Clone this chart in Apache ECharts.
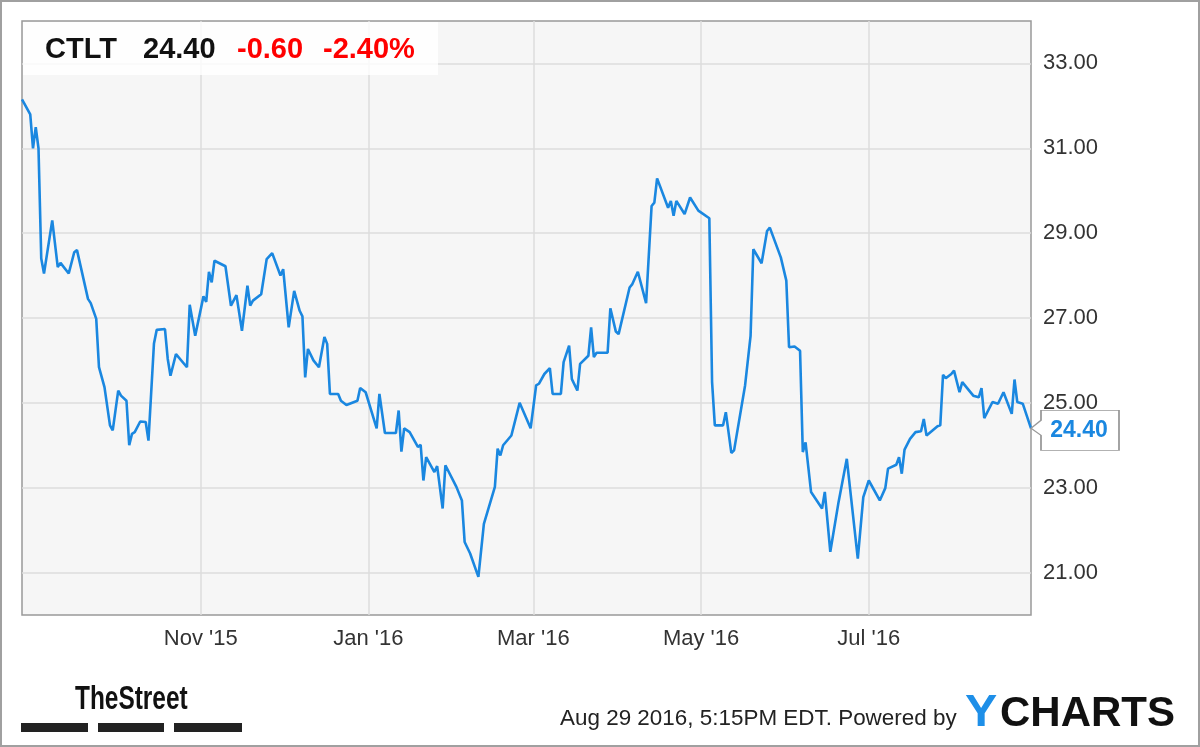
<!DOCTYPE html>
<html>
<head>
<meta charset="utf-8">
<script src="https://cdn.jsdelivr.net/npm/echarts@6/dist/echarts.min.js"></script>
<style>
html,body{margin:0;padding:0;background:#fff;}
#chart{width:1200px;height:747px;}
</style>
</head>
<body>
<div id="chart"></div>
<script>
// ---- data ----
const ticker = 'CTLT';
const lastPrice = '24.40';
const change = '-0.60';
const changePct = '-2.40%';
const xTickDates = ['2015-11-01', '2016-01-01', '2016-03-01', '2016-05-01', '2016-07-01'];
const xTickLabels = ["Nov '15", "Jan '16", "Mar '16", "May '16", "Jul '16"];
const yTickValues = [21, 23, 25, 27, 29, 31, 33];
const dates = [
'2015-08-28','2015-08-31','2015-09-01','2015-09-02','2015-09-03','2015-09-04','2015-09-05','2015-09-08','2015-09-10','2015-09-11',
'2015-09-14','2015-09-16','2015-09-17','2015-09-21','2015-09-22','2015-09-24','2015-09-25','2015-09-27','2015-09-29','2015-09-30',
'2015-10-02','2015-10-03','2015-10-05','2015-10-06','2015-10-07','2015-10-08','2015-10-10','2015-10-12','2015-10-13','2015-10-15',
'2015-10-16','2015-10-19','2015-10-20','2015-10-21','2015-10-23','2015-10-27','2015-10-28','2015-10-30','2015-11-02','2015-11-03',
'2015-11-04','2015-11-05','2015-11-06','2015-11-10','2015-11-12','2015-11-14','2015-11-16','2015-11-18','2015-11-19','2015-11-20',
'2015-11-23','2015-11-25','2015-11-27','2015-11-30','2015-12-01','2015-12-03','2015-12-05','2015-12-07','2015-12-08','2015-12-09',
'2015-12-10','2015-12-12','2015-12-14','2015-12-16','2015-12-17','2015-12-18','2015-12-21','2015-12-22','2015-12-24','2015-12-28',
'2015-12-29','2015-12-31','2016-01-04','2016-01-05','2016-01-07','2016-01-11','2016-01-12','2016-01-13','2016-01-14','2016-01-16',
'2016-01-19','2016-01-20','2016-01-21','2016-01-22','2016-01-25','2016-01-26','2016-01-28','2016-01-29','2016-02-02','2016-02-04',
'2016-02-05','2016-02-07','2016-02-10','2016-02-12','2016-02-16','2016-02-17','2016-02-18','2016-02-19','2016-02-22','2016-02-25',
'2016-02-29','2016-03-02','2016-03-03','2016-03-05','2016-03-07','2016-03-08','2016-03-11','2016-03-12','2016-03-14','2016-03-15',
'2016-03-17','2016-03-18','2016-03-21','2016-03-22','2016-03-23','2016-03-24','2016-03-28','2016-03-29','2016-03-31','2016-04-01',
'2016-04-05','2016-04-06','2016-04-08','2016-04-11','2016-04-13','2016-04-14','2016-04-15','2016-04-19','2016-04-20','2016-04-21',
'2016-04-22','2016-04-25','2016-04-27','2016-04-30','2016-05-04','2016-05-05','2016-05-06','2016-05-09','2016-05-10','2016-05-12',
'2016-05-13','2016-05-17','2016-05-19','2016-05-20','2016-05-23','2016-05-25','2016-05-26','2016-05-30','2016-06-01','2016-06-02',
'2016-06-04','2016-06-06','2016-06-07','2016-06-08','2016-06-10','2016-06-14','2016-06-15','2016-06-17','2016-06-20','2016-06-23',
'2016-06-27','2016-06-29','2016-07-01','2016-07-05','2016-07-07','2016-07-08','2016-07-11','2016-07-12','2016-07-13','2016-07-14',
'2016-07-16','2016-07-18','2016-07-20','2016-07-21','2016-07-22','2016-07-26','2016-07-27','2016-07-28','2016-07-29','2016-07-31',
'2016-08-01','2016-08-03','2016-08-04','2016-08-06','2016-08-08','2016-08-10','2016-08-11','2016-08-12','2016-08-15','2016-08-17',
'2016-08-19','2016-08-22','2016-08-23','2016-08-24','2016-08-26','2016-08-29'
];
const prices = [
32.15,31.80,31.00,31.50,31.00,28.40,28.05,29.30,28.20,28.30,
28.05,28.55,28.60,27.45,27.35,26.98,25.84,25.37,24.47,24.35,
25.29,25.17,25.05,24.00,24.27,24.31,24.56,24.55,24.11,26.40,
26.72,26.74,26.04,25.64,26.15,25.84,27.31,26.58,27.51,27.38,
28.09,27.84,28.35,28.22,27.29,27.54,26.70,27.76,27.29,27.41,
27.56,28.39,28.53,28.00,28.15,26.78,27.64,27.17,27.04,25.60,
26.27,26.00,25.84,26.55,26.39,25.21,25.21,25.05,24.95,25.05,
25.35,25.25,24.40,25.21,24.29,24.29,24.82,23.85,24.40,24.31,
23.96,24.01,23.17,23.72,23.37,23.51,22.51,23.53,23.02,22.70,
21.72,21.45,20.90,22.15,23.02,23.92,23.76,24.00,24.23,25.00,
24.40,25.41,25.45,25.68,25.82,25.21,25.21,25.96,26.35,25.56,
25.29,25.92,26.11,26.78,26.08,26.18,26.18,27.23,26.68,26.62,
27.72,27.80,28.09,27.35,29.64,29.72,30.29,29.60,29.76,29.41,
29.76,29.45,29.84,29.53,29.35,25.49,24.47,24.47,24.78,23.82,
23.88,25.41,26.58,28.62,28.29,29.05,29.13,28.43,27.88,26.31,
26.33,26.23,23.84,24.07,22.90,22.51,22.90,21.49,22.66,23.68,
21.33,22.78,23.17,22.70,22.99,23.45,23.54,23.72,23.33,23.90,
24.15,24.31,24.33,24.62,24.23,24.45,24.47,25.66,25.58,25.68,
25.76,25.25,25.49,25.33,25.17,25.13,25.35,24.64,25.02,24.98,
25.25,24.74,25.55,25.02,24.98,24.40
];
const xMin = '2015-08-28';
const xMax = '2016-08-29';
const yMin = 20, yMax = 34;
const stampText = 'Aug 29 2016, 5:15PM EDT. Powered by';

// ---- chart ----
const BLUE = '#1a87e0';
const FONT = '"Liberation Sans", Arial, sans-serif';
const toStamp = d => +echarts.time.parse(d);
const tickStamps = xTickDates.map(toStamp);
const seriesData = dates.map((d, i) => [toStamp(d), prices[i]]);
const lastIdx = dates.length - 1;

const chart = echarts.init(document.getElementById('chart'), null, {renderer: 'canvas'});
chart.setOption({
  animation: false,
  backgroundColor: '#fff',
  grid: {
    left: 22, top: 21, right: 169, bottom: 132,
    show: true, backgroundColor: '#f6f6f6', borderColor: '#999', borderWidth: 1.5
  },
  xAxis: {
    type: 'value', min: toStamp(xMin), max: toStamp(xMax),
    axisLine: {show: false},
    axisTick: {show: false, customValues: tickStamps},
    axisLabel: {
      customValues: tickStamps,
      fontSize: 22, color: '#333', fontFamily: FONT, margin: 13,
      formatter: function (v) {
        const i = tickStamps.indexOf(+v);
        return i >= 0 ? xTickLabels[i] : '';
      }
    },
    splitLine: {show: true, lineStyle: {color: '#dcdcdc', width: 1.5}}
  },
  yAxis: {
    type: 'value', position: 'right', min: yMin, max: yMax,
    axisLine: {show: false},
    axisTick: {show: false, customValues: yTickValues},
    axisLabel: {
      customValues: yTickValues,
      fontSize: 22, color: '#333', fontFamily: FONT, margin: 12,
      padding: [4, 0, 0, 0],
      formatter: v => Number(v).toFixed(2)
    },
    splitLine: {show: true, lineStyle: {color: '#dcdcdc', width: 1.5}}
  },
  series: [{
    type: 'line',
    data: seriesData,
    showSymbol: false,
    lineStyle: {color: BLUE, width: 2.6},
    itemStyle: {color: BLUE},
    z: 3,
    markPoint: {
      silent: true,
      symbol: 'path://M10 0L88 0L88 40L10 40L10 25L0 18L10 10Z',
      symbolSize: [88, 40],
      symbolOffset: [44, 2],
      symbolKeepAspect: false,
      itemStyle: {color: '#fff', borderColor: '#999', borderWidth: 1.2},
      label: {
        show: true, position: 'inside', offset: [4, 0],
        formatter: lastPrice, color: BLUE, fontWeight: 'bold', fontSize: 23, fontFamily: FONT
      },
      data: [{coord: [seriesData[lastIdx][0], prices[lastIdx]]}]
    }
  }],
  graphic: [
    {type: 'rect', z: 100, shape: {x: 1, y: 1, width: 1198, height: 745},
     style: {fill: 'none', stroke: '#a0a0a0', lineWidth: 2}},
    {type: 'rect', z: 50, shape: {x: 23, y: 22, width: 415, height: 53},
     style: {fill: 'rgba(255,255,255,0.82)'}},
    {type: 'text', z: 51, x: 45, y: 50, style: {text: ticker, font: 'bold 29px ' + FONT, fill: '#111', textVerticalAlign: 'middle'}},
    {type: 'text', z: 51, x: 143, y: 50, style: {text: lastPrice, font: 'bold 29px ' + FONT, fill: '#111', textVerticalAlign: 'middle'}},
    {type: 'text', z: 51, x: 237, y: 50, style: {text: change, font: 'bold 29px ' + FONT, fill: '#f00', textVerticalAlign: 'middle'}},
    {type: 'text', z: 51, x: 323, y: 50, style: {text: changePct, font: 'bold 29px ' + FONT, fill: '#f00', textVerticalAlign: 'middle'}},
    {type: 'text', z: 51, x: 75, y: 700, scaleX: 0.74,
     style: {text: 'TheStreet', font: 'bold 33px ' + FONT, fill: '#111', textVerticalAlign: 'middle'}},
    {type: 'rect', z: 51, shape: {x: 21, y: 723, width: 67, height: 9}, style: {fill: '#222'}},
    {type: 'rect', z: 51, shape: {x: 98, y: 723, width: 66, height: 9}, style: {fill: '#222'}},
    {type: 'rect', z: 51, shape: {x: 174, y: 723, width: 68, height: 9}, style: {fill: '#222'}},
    {type: 'text', z: 51, x: 560, y: 719, scaleX: 1.02,
     style: {text: stampText, font: '22px ' + FONT, fill: '#222', textVerticalAlign: 'middle'}},
    {type: 'text', z: 51, x: 965, y: 714, scaleX: 1.1,
     style: {text: 'Y', font: 'bold 44px ' + FONT, fill: '#1e8fe8', textVerticalAlign: 'middle'}},
    {type: 'text', z: 51, x: 1000, y: 714,
     style: {text: 'CHARTS', font: 'bold 42px ' + FONT, fill: '#111', textVerticalAlign: 'middle'}}
  ]
});
</script>
</body>
</html>
